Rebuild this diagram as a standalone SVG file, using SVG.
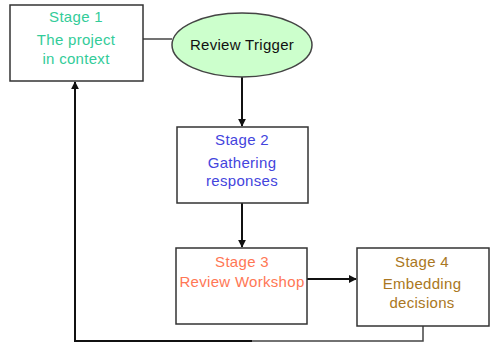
<svg xmlns="http://www.w3.org/2000/svg" width="490" height="343" viewBox="0 0 490 343">
<style>
.box{fill:#fff;stroke:#333;stroke-width:1.5}
text{font-family:"Liberation Sans",Arial,sans-serif;font-size:15px;text-anchor:middle;letter-spacing:0.3px}
.c{fill:none;stroke:#111;stroke-width:2}
.t{fill:none;stroke:#444;stroke-width:1.5}
</style>
<defs>
<marker id="ah" viewBox="0 0 10 10" refX="9" refY="5" markerWidth="4" markerHeight="4" orient="auto"><path d="M0,0 L10,5 L0,10 z" fill="#111"/></marker>
</defs>
<g id="connectors">
<line class="t" x1="143" y1="39" x2="172" y2="39"/>
<line class="c" x1="242" y1="77" x2="242" y2="126" marker-end="url(#ah)"/>
<line class="c" x1="242" y1="203" x2="242" y2="247" marker-end="url(#ah)"/>
<line class="c" x1="307" y1="279" x2="356" y2="279" stroke-width="3" marker-end="url(#ah)"/>
<polyline class="t" points="423,326 423,341 250,341"/>
<polyline class="c" points="252,341 75,341 75,82" marker-end="url(#ah)"/>
</g>
<g id="stage1">
<rect class="box" x="10" y="5" width="133" height="76"/>
<text x="76" y="22" fill="#33cc99">Stage 1</text>
<text x="76" y="45" fill="#33cc99">The project</text>
<text x="76" y="64" fill="#33cc99">in context</text>
</g>
<g id="trigger">
<ellipse cx="242" cy="45" rx="70" ry="32" fill="#ccffcc" stroke="#444" stroke-width="1.5"/>
<text x="242" y="50" fill="#111">Review Trigger</text>
</g>
<g id="stage2">
<rect class="box" x="177" y="127" width="131" height="76"/>
<text x="242" y="145" fill="#4444dd">Stage 2</text>
<text x="242" y="168" fill="#4444dd">Gathering</text>
<text x="242" y="186" fill="#4444dd">responses</text>
</g>
<g id="stage3">
<rect class="box" x="176" y="248" width="131" height="76"/>
<text x="242" y="267" fill="#ff7755">Stage 3</text>
<text x="242" y="287" fill="#ff7755">Review Workshop</text>
</g>
<g id="stage4">
<rect class="box" x="357" y="248" width="132" height="78"/>
<text x="422" y="267" fill="#aa7722">Stage 4</text>
<text x="422" y="289" fill="#aa7722">Embedding</text>
<text x="422" y="308" fill="#aa7722">decisions</text>
</g>
</svg>
